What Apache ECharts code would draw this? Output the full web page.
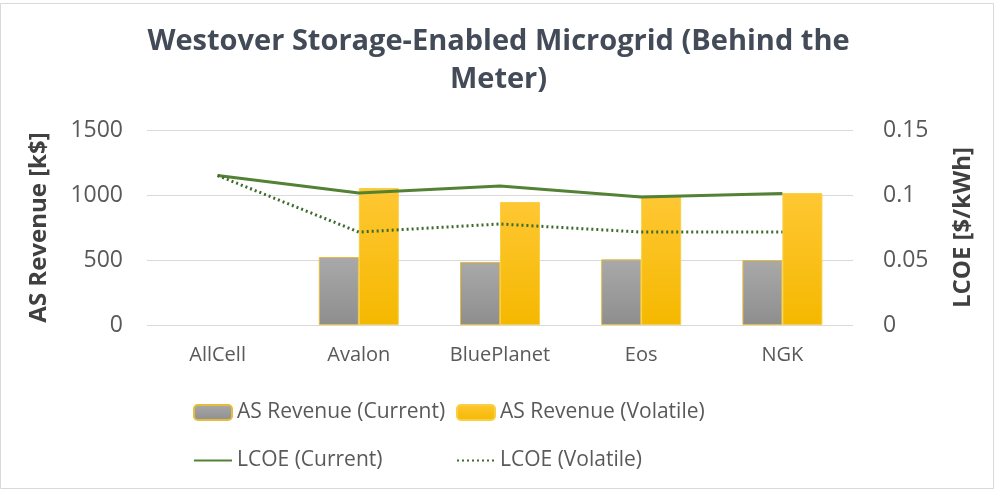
<!DOCTYPE html>
<html>
<head>
<meta charset="utf-8">
<title>Westover Storage-Enabled Microgrid</title>
<script src="https://cdn.jsdelivr.net/npm/echarts@6/dist/echarts.min.js"></script>
<style>
html, body { margin: 0; padding: 0; background: #fff; }
#chart {
    width: 997px; height: 491px;
}
</style>
</head>
<body>
<div id="chart"></div>
<script>
// data
var categories = ['AllCell', 'Avalon', 'BluePlanet', 'Eos', 'NGK'];
var revCurrent = [null, 523, 485, 505, 500];
var revVolatile = [null, 1054, 946, 985, 1015];
var lcoeCurrent = [0.115, 0.1015, 0.107, 0.0985, 0.1012];
var lcoeVolatile = [0.115, 0.0715, 0.0777, 0.0715, 0.0715];
var leftTicks = [0, 500, 1000, 1500];
var rightTicks = [0, 0.05, 0.1, 0.15];

var chart = echarts.init(document.getElementById('chart'));
var font = '"Open Sans", "Liberation Sans", sans-serif';
var tickStyle = { color: '#595959', fontSize: 23, fontFamily: font };
var legendText = { color: '#595959', fontSize: 21, fontFamily: font };

function legendAt(name, left, top, isLine) {
    var l = {
        data: [name], left: left, top: top,
        itemWidth: 38, itemHeight: 15, itemGap: 3,
        textStyle: legendText, selectedMode: false
    };
    if (isLine) l.itemStyle = { opacity: 0 };
    return l;
}

chart.setOption({
    animation: false,
    title: {
        text: 'Westover Storage-Enabled Microgrid (Behind the\nMeter)',
        left: 'center', top: 18,
        textStyle: { color: '#424b57', fontSize: 29, fontWeight: 'bold', fontFamily: font, lineHeight: 38 }
    },
    graphic: [{
        type: 'rect', shape: { x: 0.5, y: 3.5, width: 993, height: 485 },
        style: { fill: 'none', stroke: '#d9d9d9', lineWidth: 1 }, silent: true
    }],
    legend: [
        legendAt('AS Revenue (Current)', 188, 397),
        legendAt('AS Revenue (Volatile)', 451, 397),
        legendAt('LCOE (Current)', 188, 445, true),
        legendAt('LCOE (Volatile)', 451, 445, true)
    ],
    grid: { left: 147, right: 144, top: 130, bottom: 166 },
    xAxis: {
        type: 'category', data: categories,
        axisLine: { show: false }, axisTick: { show: false },
        axisLabel: { margin: 20, color: '#595959', fontSize: 20, fontFamily: font }
    },
    yAxis: [{
        type: 'value', min: 0, max: 1500, interval: 500,
        name: 'AS Revenue [k$]', nameLocation: 'middle', nameGap: 96,
        nameTextStyle: { color: '#404040', fontSize: 24, fontWeight: 'bold', fontFamily: font },
        axisLabel: Object.assign({ margin: 24, formatter: function (v) { return leftTicks.indexOf(v) >= 0 ? String(v) : ''; } }, tickStyle),
        splitLine: { lineStyle: { color: '#d9d9d9', width: 1 } }
    }, {
        type: 'value', min: 0, max: 0.15, interval: 0.05,
        name: 'LCOE [$/kWh]', nameLocation: 'middle', nameGap: 98,
        nameTextStyle: { color: '#404040', fontSize: 24, fontWeight: 'bold', fontFamily: font },
        axisLabel: Object.assign({ margin: 30, formatter: function (v) {
            var r = rightTicks.filter(function (t) { return Math.abs(t - v) < 1e-9; });
            return r.length ? String(r[0]) : '';
        } }, tickStyle),
        splitLine: { show: false }
    }],
    series: [{
        name: 'AS Revenue (Current)', type: 'bar', data: revCurrent,
        barWidth: 40, barGap: '0%',
        itemStyle: {
            color: new echarts.graphic.LinearGradient(0, 0, 0, 1, [
                { offset: 0, color: '#a9a9a9' }, { offset: 1, color: '#8e8e8e' }
            ]),
            borderColor: '#e6bc3c', borderWidth: 1
        }
    }, {
        name: 'AS Revenue (Volatile)', type: 'bar', data: revVolatile,
        barWidth: 40,
        itemStyle: {
            color: new echarts.graphic.LinearGradient(0, 0, 0, 1, [
                { offset: 0, color: '#ffc733' }, { offset: 1, color: '#f5b800' }
            ]),
            borderColor: '#f7d046', borderWidth: 1
        }
    }, {
        name: 'LCOE (Current)', type: 'line', yAxisIndex: 1, data: lcoeCurrent,
        symbol: 'none', z: 5,
        lineStyle: { color: '#548235', width: 3 },
        itemStyle: { color: '#548235' }
    }, {
        name: 'LCOE (Volatile)', type: 'line', yAxisIndex: 1, data: lcoeVolatile,
        symbol: 'none', z: 5,
        lineStyle: { color: '#3d6b2c', width: 3, type: [2, 3] },
        itemStyle: { color: '#3d6b2c' }
    }]
});
</script>
</body>
</html>
